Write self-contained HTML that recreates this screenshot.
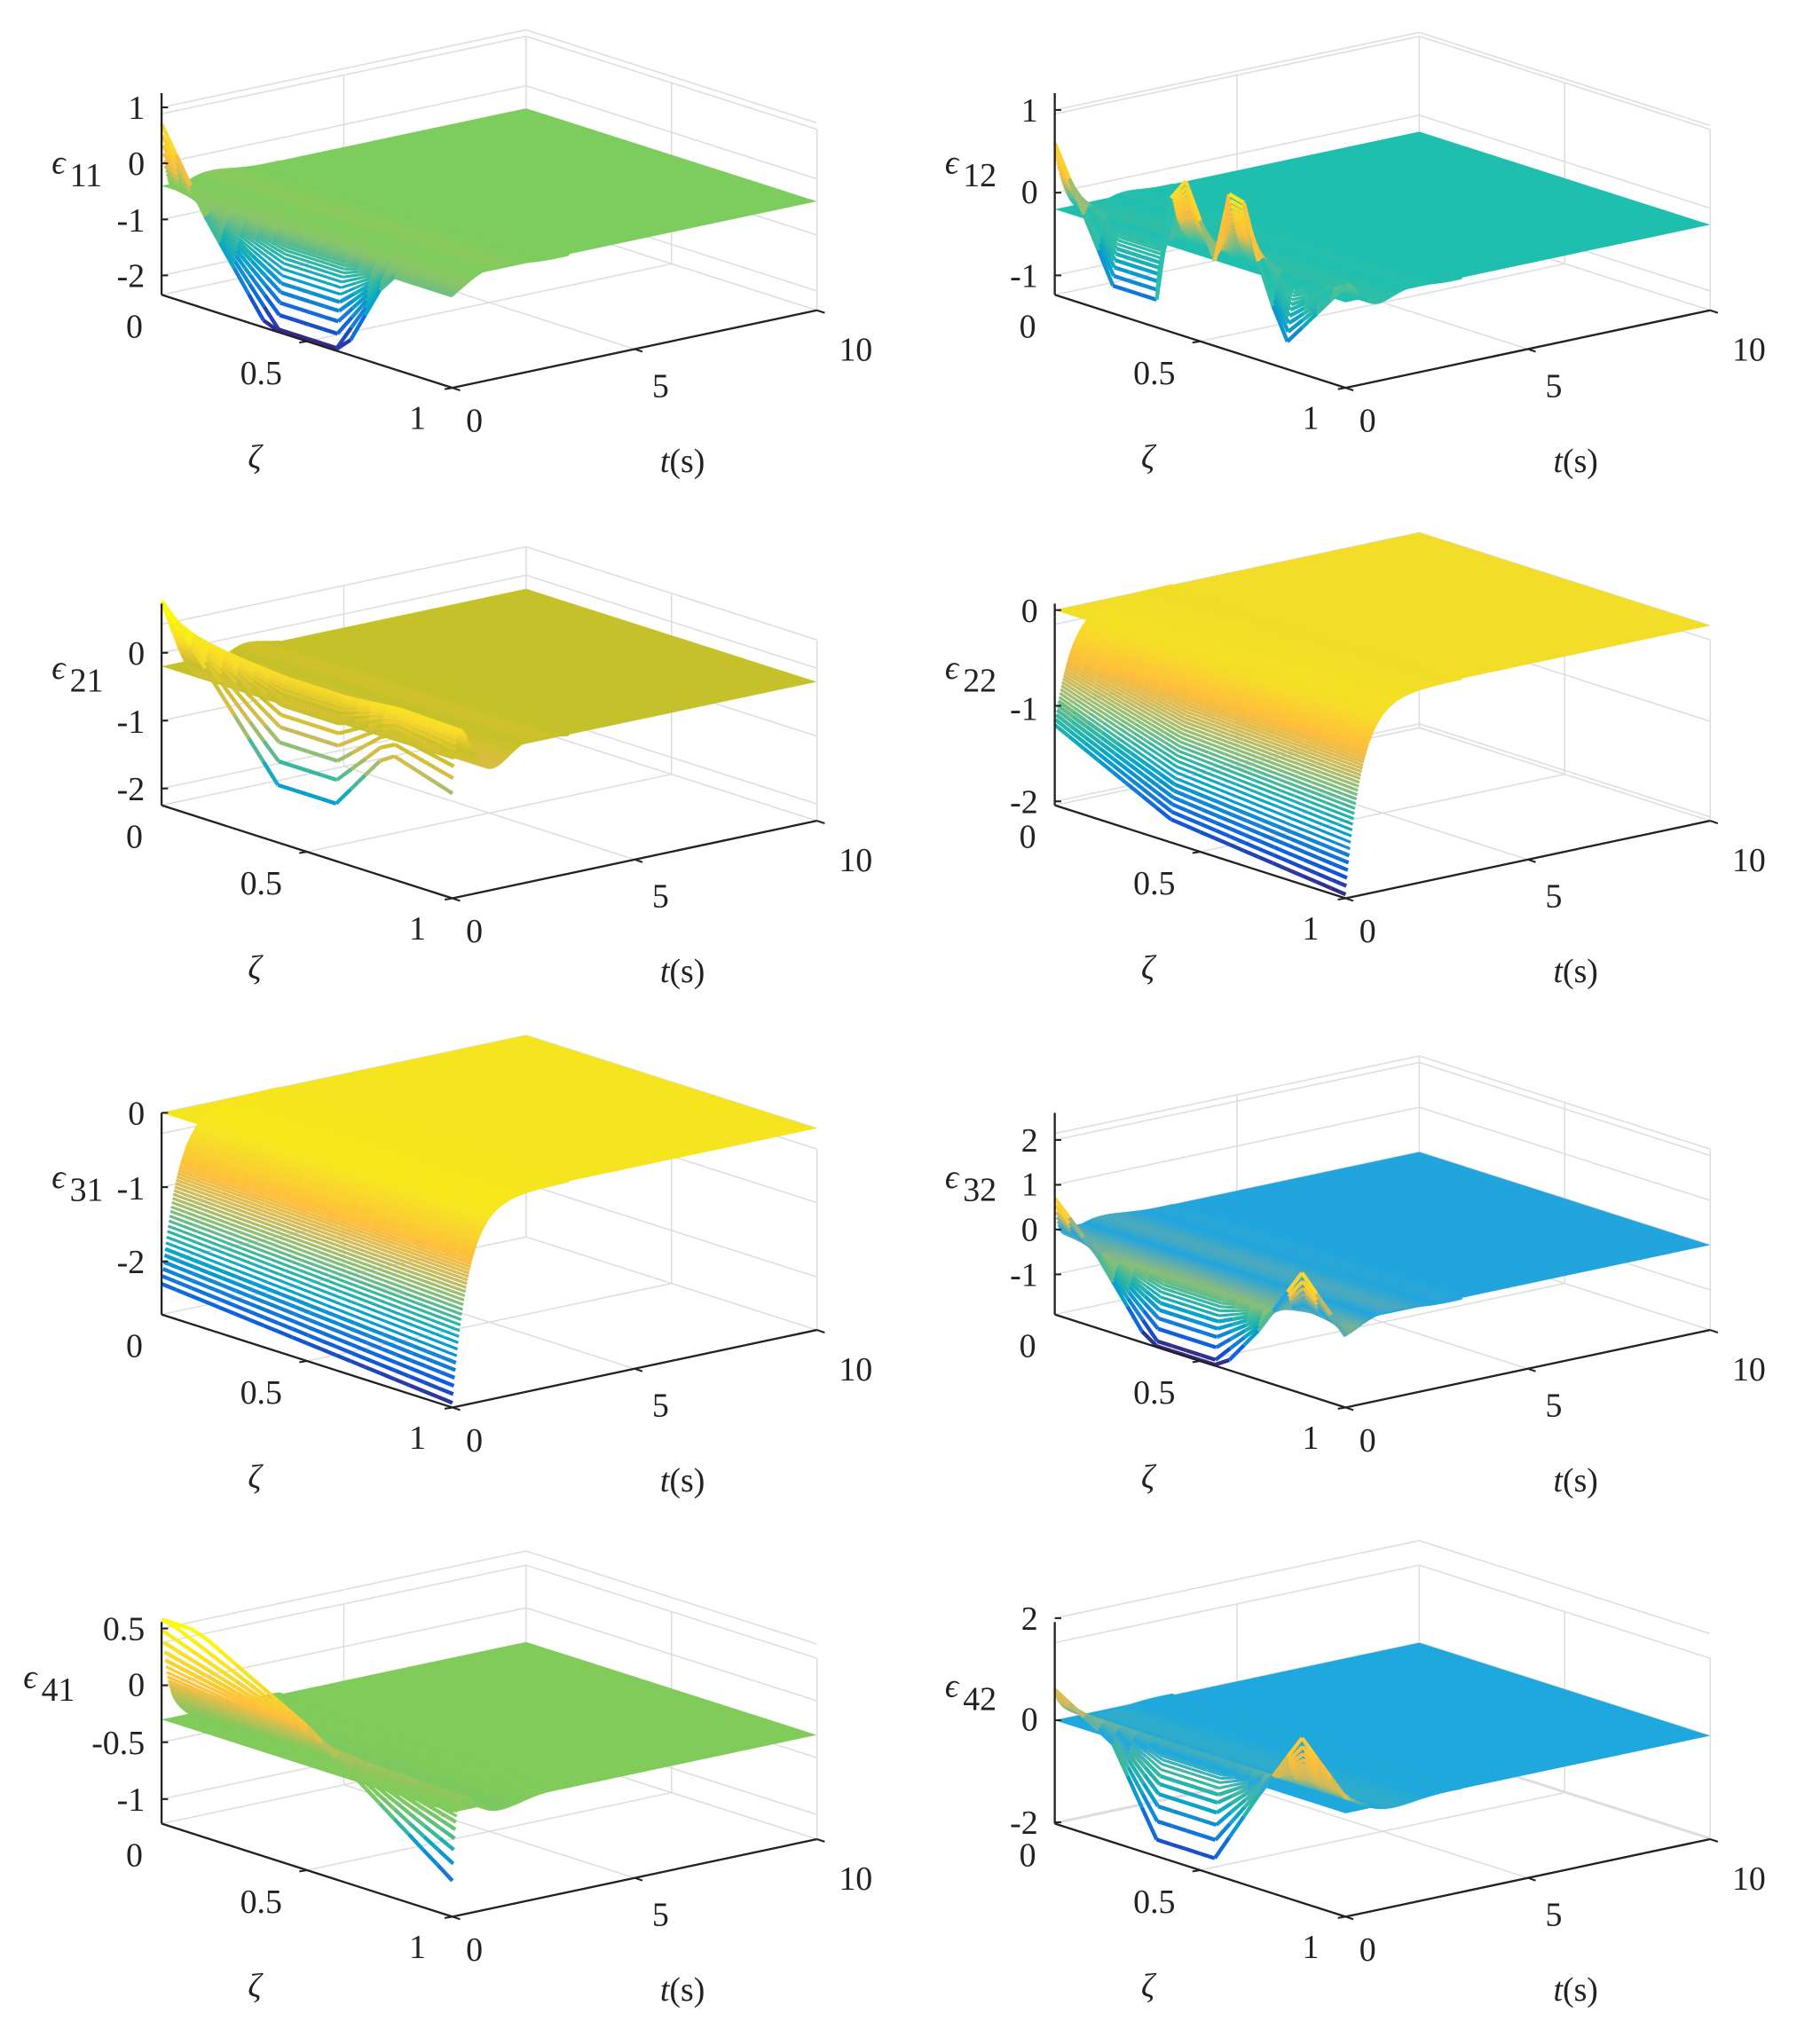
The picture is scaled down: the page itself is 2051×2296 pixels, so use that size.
<!DOCTYPE html>
<html><head><meta charset="utf-8"><style>
html,body{margin:0;padding:0;background:#fff;}
svg{display:block;}
text{font-family:"Liberation Serif",serif;font-size:26px;fill:#222;}
.zt{text-anchor:end;}
.c{text-anchor:middle;}
</style></head><body>
<svg id="s" width="2051" height="2296" viewBox="0 0 1408 1576" xmlns="http://www.w3.org/2000/svg">
<g id="plots"></g>
<g transform="translate(0,0)">
<text class="zt" x="112" y="92">1</text><text class="zt" x="112" y="135">0</text><text class="zt" x="112" y="179">-1</text><text class="zt" x="112" y="222">-2</text>
<text x="40" y="134" font-style="italic">ϵ</text><text x="54" y="144" font-size="20">11</text>
</g>
<g transform="translate(691,0)">
<text class="zt" x="112" y="94">1</text><text class="zt" x="112" y="157">0</text><text class="zt" x="112" y="222">-1</text>
<text x="40" y="134" font-style="italic">ϵ</text><text x="54" y="144" font-size="20">12</text>
</g>
<g transform="translate(0,395)">
<text class="zt" x="112" y="119">0</text><text class="zt" x="112" y="172">-1</text><text class="zt" x="112" y="224">-2</text>
<text x="40" y="130" font-style="italic">ϵ</text><text x="54" y="140" font-size="20">21</text>
</g>
<g transform="translate(691,395)">
<text class="zt" x="112" y="86">0</text><text class="zt" x="112" y="162">-1</text><text class="zt" x="112" y="234">-2</text>
<text x="40" y="130" font-style="italic">ϵ</text><text x="54" y="140" font-size="20">22</text>
</g>
<g transform="translate(0,789)">
<text class="zt" x="112" y="81">0</text><text class="zt" x="112" y="139">-1</text><text class="zt" x="112" y="196">-2</text>
<text x="40" y="130" font-style="italic">ϵ</text><text x="54" y="140" font-size="20">31</text>
</g>
<g transform="translate(691,789)">
<text class="zt" x="112" y="102">2</text><text class="zt" x="112" y="136">1</text><text class="zt" x="112" y="171">0</text><text class="zt" x="112" y="206">-1</text>
<text x="40" y="130" font-style="italic">ϵ</text><text x="54" y="140" font-size="20">32</text>
</g>
<g transform="translate(0,1183)">
<text class="zt" x="112" y="86">0.5</text><text class="zt" x="112" y="129">0</text><text class="zt" x="112" y="174">-0.5</text><text class="zt" x="112" y="218">-1</text>
<text x="18" y="123" font-style="italic">ϵ</text><text x="32" y="133" font-size="20">41</text>
</g>
<g transform="translate(691,1183)">
<text class="zt" x="112" y="78">2</text><text class="zt" x="112" y="156">0</text><text class="zt" x="112" y="236">-2</text>
<text x="40" y="130" font-style="italic">ϵ</text><text x="54" y="140" font-size="20">42</text>
</g>
<g transform="translate(0,0)">
<text class="c" x="104" y="261">0</text><text class="c" x="202" y="297">0.5</text><text class="c" x="323" y="332">1</text>
<text class="c" x="367" y="334">0</text><text class="c" x="511" y="307">5</text><text class="c" x="662" y="279">10</text>
<text class="c" x="197" y="362" font-style="italic">ζ</text><text class="c" x="528" y="365"><tspan font-style="italic">t</tspan>(s)</text>
</g>
<g transform="translate(691,0)">
<text class="c" x="104" y="261">0</text><text class="c" x="202" y="297">0.5</text><text class="c" x="323" y="332">1</text>
<text class="c" x="367" y="334">0</text><text class="c" x="511" y="307">5</text><text class="c" x="662" y="279">10</text>
<text class="c" x="197" y="362" font-style="italic">ζ</text><text class="c" x="528" y="365"><tspan font-style="italic">t</tspan>(s)</text>
</g>
<g transform="translate(0,395)">
<text class="c" x="104" y="261">0</text><text class="c" x="202" y="297">0.5</text><text class="c" x="323" y="332">1</text>
<text class="c" x="367" y="334">0</text><text class="c" x="511" y="307">5</text><text class="c" x="662" y="279">10</text>
<text class="c" x="197" y="362" font-style="italic">ζ</text><text class="c" x="528" y="365"><tspan font-style="italic">t</tspan>(s)</text>
</g>
<g transform="translate(691,395)">
<text class="c" x="104" y="261">0</text><text class="c" x="202" y="297">0.5</text><text class="c" x="323" y="332">1</text>
<text class="c" x="367" y="334">0</text><text class="c" x="511" y="307">5</text><text class="c" x="662" y="279">10</text>
<text class="c" x="197" y="362" font-style="italic">ζ</text><text class="c" x="528" y="365"><tspan font-style="italic">t</tspan>(s)</text>
</g>
<g transform="translate(0,789)">
<text class="c" x="104" y="261">0</text><text class="c" x="202" y="297">0.5</text><text class="c" x="323" y="332">1</text>
<text class="c" x="367" y="334">0</text><text class="c" x="511" y="307">5</text><text class="c" x="662" y="279">10</text>
<text class="c" x="197" y="362" font-style="italic">ζ</text><text class="c" x="528" y="365"><tspan font-style="italic">t</tspan>(s)</text>
</g>
<g transform="translate(691,789)">
<text class="c" x="104" y="261">0</text><text class="c" x="202" y="297">0.5</text><text class="c" x="323" y="332">1</text>
<text class="c" x="367" y="334">0</text><text class="c" x="511" y="307">5</text><text class="c" x="662" y="279">10</text>
<text class="c" x="197" y="362" font-style="italic">ζ</text><text class="c" x="528" y="365"><tspan font-style="italic">t</tspan>(s)</text>
</g>
<g transform="translate(0,1183)">
<text class="c" x="104" y="261">0</text><text class="c" x="202" y="297">0.5</text><text class="c" x="323" y="332">1</text>
<text class="c" x="367" y="334">0</text><text class="c" x="511" y="307">5</text><text class="c" x="662" y="279">10</text>
<text class="c" x="197" y="362" font-style="italic">ζ</text><text class="c" x="528" y="365"><tspan font-style="italic">t</tspan>(s)</text>
</g>
<g transform="translate(691,1183)">
<text class="c" x="104" y="261">0</text><text class="c" x="202" y="297">0.5</text><text class="c" x="323" y="332">1</text>
<text class="c" x="367" y="334">0</text><text class="c" x="511" y="307">5</text><text class="c" x="662" y="279">10</text>
<text class="c" x="197" y="362" font-style="italic">ζ</text><text class="c" x="528" y="365"><tspan font-style="italic">t</tspan>(s)</text>
</g>
</svg>
<script>
(function(){
var NS="http://www.w3.org/2000/svg";
var root=document.getElementById("plots");
var stops=[[0,[53,42,135]],[0.1,[15,92,221]],[0.2,[20,129,214]],[0.3,[6,164,202]],[0.4,[46,183,164]],[0.5,[135,191,119]],[0.6,[209,187,89]],[0.7,[254,190,60]],[0.85,[248,222,40]],[1,[249,251,14]]];
function parula(c){c=Math.max(0,Math.min(1,c));for(var i=1;i<stops.length;i++){if(c<=stops[i][0]){var a=stops[i-1],b=stops[i],f=(c-a[0])/(b[0]-a[0]);return [0,1,2].map(function(k){return a[1][k]+(b[1][k]-a[1][k])*f;});}}return stops[stops.length-1][1];}
function hex2rgb(h){return [parseInt(h.substr(1,2),16),parseInt(h.substr(3,2),16),parseInt(h.substr(5,2),16)];}
function rgb(a){return "rgb("+a.map(function(v){return Math.round(v)}).join(",")+")";}
function pw(pts,x){for(var i=1;i<pts.length;i++){if(x<=pts[i][0]){var a=pts[i-1],b=pts[i];return a[1]+(b[1]-a[1])*(x-a[0])/(b[0]-a[0]);}}return pts[pts.length-1][1];}
var P=[
{dx:0,dy:0,t:[[1,83],[-2,213]],flat:-0.4,fc:"#7ccd5e",cl:[-2.3,1.05],p0:[[0,1],[0.15,-0.4],[0.4,-2.3],[0.6,-2.3],[0.78,-0.4],[1,-0.4]],tau0:0.12,B:-0.3,tb:1,w:2},
{dx:691,dy:0,t:[[1,85],[-1,213]],flat:-0.2,fc:"#1fbfb0",cl:[-1.25,0.85],p0:[[0,0.3],[0.2,-1.2],[0.35,-1.2],[0.42,0.6],[0.55,-0.5],[0.62,0.7],[0.72,-0.6],[0.8,-1.2],[1,-0.3]],tau0:0.15,B:0.3,tb:0.8,w:3},
{dx:0,dy:395,t:[[0,110],[-2,215]],flat:-0.2,fc:"#c4c12a",cl:[-2.2,0.6],p0:[[0,0],[0.4,-2.2],[0.6,-2.2],[0.78,-1.2],[1,-1.5]],tau0:0.1,B:0.8,tb:1.0,w:2.5},
{dx:691,dy:395,t:[[0,77],[-2,225]],flat:0,fc:"#f2dd28",cl:[-2,0.1],p0:[[0,-1.2],[0.4,-1.8],[1,-2.0]],tau0:0.45,B:0,tb:1.2,w:1.5},
{dx:0,dy:789,t:[[0,72],[-2,187]],flat:0,fc:"#f5e51e",cl:[-2.7,0.05],p0:[[0,-2.3],[1,-2.65]],tau0:0.45,B:0,tb:1.0,w:1.0},
{dx:691,dy:789,t:[[2,93],[-1,197]],flat:0,fc:"#22a5dd",cl:[-1.8,1.1],p0:[[0,1],[0.15,0],[0.35,-1.8],[0.55,-1.8],[0.7,-0.5],[0.85,1.1],[1,0]],tau0:0.1,B:-0.3,tb:1,w:2},
{dx:0,dy:1183,t:[[0.5,77],[-1,209]],flat:-0.3,fc:"#80cb5a",cl:[-1.15,0.55],p0:[[0,0.5],[0.5,-0.2],[1,-1.15]],tau0:0.1,B:0.25,tb:1.0,w:2},
{dx:691,dy:1183,t:[[2,69],[-2,227]],flat:0,fc:"#1ea8de",cl:[-2,2],p0:[[0,0.3],[0.2,-0.4],[0.35,-2],[0.55,-2],[0.7,-0.5],[0.85,0.9],[1,0]],tau0:0.1,B:0.3,tb:1,w:2}
];
function el(tag,attrs,parent){var e=document.createElementNS(NS,tag);for(var k in attrs)e.setAttribute(k,attrs[k]);parent.appendChild(e);return e;}
P.forEach(function(p){
 var g=el("g",{transform:"translate("+p.dx+","+p.dy+")"},root);
 var k=(p.t[1][1]-p.t[0][1])/(p.t[0][0]-p.t[1][0]);
 var zbot=p.t[1][0]-(228-p.t[1][1])/k;
 var ztop=zbot+(228-70)/k;
 function pr(z,t,zz){return [125+225*z+28.2*t,228+72*z-6*t-(zz-zbot)*k];}
 var topY=72;
 function L(a,b,c,w){el("line",{x1:a[0].toFixed(1),y1:a[1].toFixed(1),x2:b[0].toFixed(1),y2:b[1].toFixed(1),stroke:c,"stroke-width":w||1},g);}
 var grid="#dcdcdc";
 var A=pr(0,0,zbot),B=pr(1,0,zbot),C=pr(1,10,zbot),D=pr(0,10,zbot);
 var h=228-88;
 function up(q){return [q[0],q[1]-h];}
 L(A,up(A),grid);L(D,up(D),grid);L(C,up(C),grid);L(up(A),up(D),grid);L(up(D),up(C),grid);
 var t5a=pr(0,5,zbot),t5b=pr(1,5,zbot),h5=pr(0.5,0,zbot),h5b=pr(0.5,10,zbot);
 L(t5a,up(t5a),grid);L(h5b,up(h5b),grid);L(t5a,t5b,grid);L(h5,h5b,grid);L(A,D,grid);L(D,C,grid);
 var ticks=[];var lo=p.t[1][0],hi=p.t[0][0];var st=(p.dx==0&&p.dy==1183)?0.5:(hi-lo>=4?2:1);
 for(var v=lo;v<=hi+1e-6;v+=st)ticks.push(v);
 ticks.forEach(function(v){var a=pr(0,0,v),d=pr(0,10,v),c=pr(1,10,v);L(a,d,grid);L(d,c,grid);});
 var fl=[pr(0,0.0,p.flat),pr(1,0.0,p.flat),pr(1,10,p.flat),pr(0,10,p.flat)];
 el("polygon",{points:fl.map(function(q){return q[0].toFixed(1)+","+q[1].toFixed(1)}).join(" "),fill:p.fc},g);
 var fc=hex2rgb(p.fc);
 function Z(z,t){var v=p.flat+(pw(p.p0,z)-p.flat)*Math.exp(-t/p.tau0)+p.B*Math.exp(-t/p.tb)*Math.cos(p.w*t);return Math.max(zbot+0.02,Math.min(ztop,v));}
 for(var t=3.2;t>=-1e-9;t-=0.02){
  var tt=Math.max(0,t);
  for(var i=0;i<20;i++){
   var z1=i/20,z2=(i+1)/20;
   var v1=Z(z1,tt),v2=Z(z2,tt),vm=(v1+v2)/2;
   var cc=parula((vm-p.cl[0])/(p.cl[1]-p.cl[0]));
   var m=Math.min(1,Math.abs(vm-p.flat)/0.35);
   var col=[0,1,2].map(function(j){return fc[j]*(1-m)+cc[j]*m;});
   L(pr(z1,tt,v1),pr(z2,tt,v2),rgb(col),tt<0.1?3:2.2);
  }
 }
 L(A,[A[0],topY],"#222",1.6);L(A,B,"#222",1.6);L(B,C,"#222",1.6);
 ticks.forEach(function(v){var a=pr(0,0,v);L(a,[a[0]+5,a[1]],"#222",1.4);});
 [0.5,1].forEach(function(z){var a=pr(z,0,zbot);L(a,[a[0]-6,a[1]+1],"#222",1.4);});
 [0,5,10].forEach(function(t){var a=pr(1,t,zbot);L(a,[a[0]+6,a[1]+2],"#222",1.4);});
});
})();
</script>
</body></html>
